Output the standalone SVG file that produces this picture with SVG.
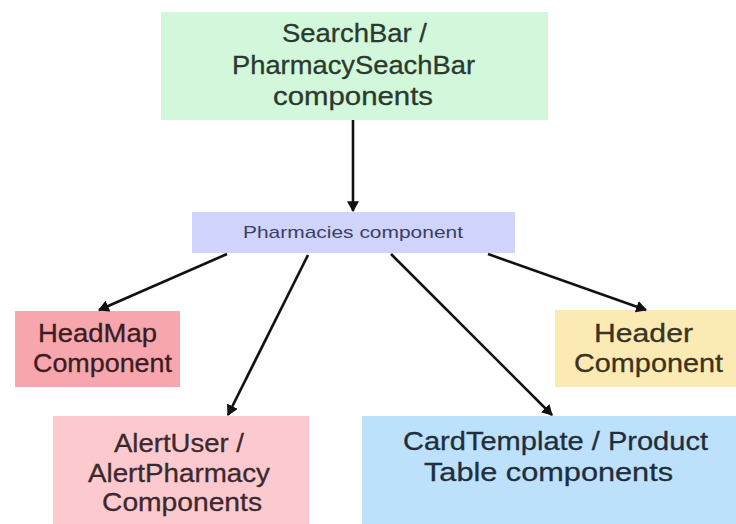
<svg xmlns="http://www.w3.org/2000/svg" width="736" height="524" viewBox="0 0 736 524">
  <defs>
    <marker id="arr" viewBox="0 0 10 11" markerWidth="11" markerHeight="12" refX="9" refY="5.5" orient="auto" markerUnits="userSpaceOnUse">
      <path d="M0,0 L10,5.5 L0,11 z" fill="#111"/>
    </marker>
  </defs>
  <style>
    .t { font-family: "Liberation Sans", Arial, sans-serif; font-size: 25px; stroke-width: 0.3px; }
    .s { font-family: "Liberation Sans", Arial, sans-serif; font-size: 17px; }
    .edge { stroke: #111; stroke-width: 2.6; fill: none; marker-end: url(#arr); }
  </style>
  <rect width="736" height="524" fill="#ffffff"/>

  <g id="searchbar">
    <rect x="161" y="12" width="387" height="108" fill="#d3f7da"/>
    <text class="t" fill="#2b3a2f" stroke="#2b3a2f" x="282" y="42" textLength="145" lengthAdjust="spacingAndGlyphs">SearchBar /</text>
    <text class="t" fill="#2b3a2f" stroke="#2b3a2f" x="232" y="74" textLength="243" lengthAdjust="spacingAndGlyphs">PharmacySeachBar</text>
    <text class="t" fill="#2b3a2f" stroke="#2b3a2f" x="273" y="105" textLength="160" lengthAdjust="spacingAndGlyphs">components</text>
  </g>

  <g id="pharmacies">
    <rect x="192" y="212" width="323" height="41" fill="#d0d3fb"/>
    <text class="s" fill="#3b4060" x="243" y="238" textLength="220" lengthAdjust="spacingAndGlyphs">Pharmacies component</text>
  </g>

  <g id="headmap">
    <rect x="15" y="311" width="165" height="76" fill="#f7a6ae"/>
    <text class="t" fill="#3a1d22" stroke="#3a1d22" x="38" y="342" textLength="119" lengthAdjust="spacingAndGlyphs">HeadMap</text>
    <text class="t" fill="#3a1d22" stroke="#3a1d22" x="33" y="372" textLength="139" lengthAdjust="spacingAndGlyphs">Component</text>
  </g>

  <g id="header">
    <rect x="555" y="310" width="181" height="77" fill="#fbeab3"/>
    <text class="t" fill="#3a3322" stroke="#3a3322" x="594" y="342" textLength="99" lengthAdjust="spacingAndGlyphs">Header</text>
    <text class="t" fill="#3a3322" stroke="#3a3322" x="574" y="372" textLength="149" lengthAdjust="spacingAndGlyphs">Component</text>
  </g>

  <g id="alertuser">
    <rect x="53" y="416" width="256" height="108" fill="#fcc9cf"/>
    <text class="t" fill="#3a2a2e" stroke="#3a2a2e" x="114" y="452" textLength="130" lengthAdjust="spacingAndGlyphs">AlertUser /</text>
    <text class="t" fill="#3a2a2e" stroke="#3a2a2e" x="88" y="482" textLength="182" lengthAdjust="spacingAndGlyphs">AlertPharmacy</text>
    <text class="t" fill="#3a2a2e" stroke="#3a2a2e" x="102" y="511" textLength="160" lengthAdjust="spacingAndGlyphs">Components</text>
  </g>

  <g id="cardtemplate">
    <rect x="362" y="416" width="374" height="108" fill="#bee1fb"/>
    <text class="t" fill="#1f2e3d" stroke="#1f2e3d" x="403" y="450" textLength="305" lengthAdjust="spacingAndGlyphs">CardTemplate / Product</text>
    <text class="t" fill="#1f2e3d" stroke="#1f2e3d" x="424" y="481" textLength="249" lengthAdjust="spacingAndGlyphs">Table components</text>
  </g>

  <g id="connectors">
    <line class="edge" x1="353" y1="120" x2="353" y2="211"/>
    <line class="edge" x1="227" y1="254" x2="99" y2="310"/>
    <line class="edge" x1="308" y1="255" x2="228" y2="415"/>
    <line class="edge" x1="391" y1="254" x2="552" y2="415"/>
    <line class="edge" x1="488" y1="254" x2="646" y2="310"/>
  </g>
</svg>
